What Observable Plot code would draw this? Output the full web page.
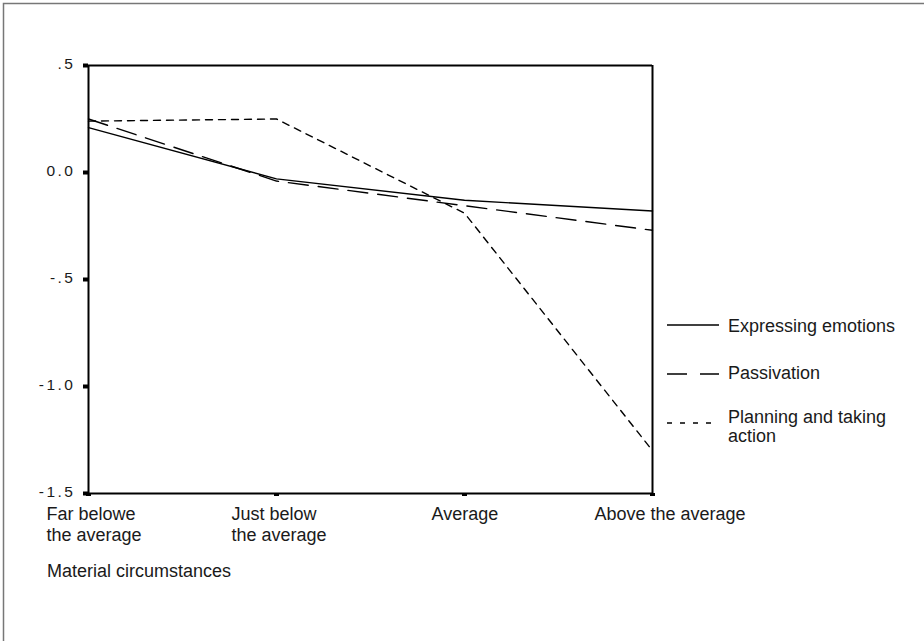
<!DOCTYPE html>
<html>
<head>
<meta charset="utf-8">
<script src="https://cdn.jsdelivr.net/npm/d3@7"></script>
<script src="https://cdn.jsdelivr.net/npm/@observablehq/plot@0.6"></script>
<style>
  html, body { margin: 0; padding: 0; background: #fff; }
  #chart { width: 924px; height: 641px; position: relative; }
  #chart svg { display: block; }
</style>
</head>
<body>
<div id="chart"></div>
<script>
// Coping strategies by material circumstances (mean scores)
const categories = ["Far belowe\nthe average", "Just below\nthe average", "Average", "Above the average"];
const seriesNames = ["Expressing emotions", "Passivation", "Planning and taking\naction"];
const expressingEmotions = [0.21, -0.03, -0.13, -0.18];
const passivation = [0.25, -0.04, -0.155, -0.27];
const planningAction = [0.24, 0.25, -0.19, -1.30];
const yTicks = [0.5, 0, -0.5, -1, -1.5];
const yTickLabels = [".5", "0.0", "-.5", "-1.0", "-1.5"];
const xTitle = "Material circumstances";

// Line style for each series, in legend order
const dashes = [null, "20,10", "7,6"];
const legendDashes = [null, "20,13", "5,8"];

const seriesValues = [expressingEmotions, passivation, planningAction];
const rows = seriesNames.flatMap((name, s) =>
  categories.map((c, i) => ({series: name, category: c, value: seriesValues[s][i]}))
);

// Horizontal shift of each left-aligned category label block
const labelDx = [-42, -45, -33, -58];

const font = "'Liberation Sans', Arial, sans-serif";
const ink = "#1a1a1a";

const plot = Plot.plot({
  width: 924,
  height: 641,
  marginLeft: 88,
  marginRight: 272,
  marginTop: 65,
  marginBottom: 148,
  style: {fontFamily: font, background: "#fff", color: ink, overflow: "visible"},
  x: {type: "point", domain: categories, padding: 0, axis: null, label: null},
  y: {domain: [-1.5, 0.5], axis: null, label: null},
  marks: [
    // plot box
    Plot.ruleX([categories[0], categories[categories.length - 1]], {stroke: "#000", strokeWidth: 2}),
    Plot.ruleY([-1.5, 0.5], {stroke: "#000", strokeWidth: 2}),
    // y axis ticks
    Plot.axisY({
      ticks: yTicks,
      tickFormat: () => "",
      tickSize: 5,
      strokeWidth: 4,
      stroke: "#000",
      label: null
    }),
    // y axis tick labels
    Plot.text(yTicks, {
      y: d => d,
      frameAnchor: "left",
      text: (d, i) => yTickLabels[i],
      textAnchor: "end",
      lineAnchor: "middle",
      dx: -13,
      dy: -1,
      fontSize: 15.5,
      fill: ink
    }),
    // x axis ticks
    Plot.axisX({
      tickSize: 3,
      strokeWidth: 5,
      stroke: "#000",
      tickFormat: () => "",
      label: null
    }),
    // category labels
    ...categories.map((c, i) => Plot.text([c], {
      x: d => d,
      y: yTicks[yTicks.length - 1],
      text: d => d,
      textAnchor: "start",
      lineAnchor: "top",
      lineHeight: 1.17,
      dx: labelDx[i],
      dy: 11.5,
      fontSize: 18,
      fill: ink
    })),
    // x axis title
    Plot.text([xTitle], {
      frameAnchor: "bottom-left",
      text: d => d,
      textAnchor: "start",
      lineAnchor: "bottom",
      dx: -41.5,
      dy: 83,
      fontSize: 18,
      fill: ink
    }),
    // series lines
    ...seriesNames.map((name, s) => Plot.line(rows.filter(r => r.series === name), {
      x: "category",
      y: "value",
      stroke: "#000",
      strokeWidth: 1.4,
      strokeDasharray: dashes[s]
    }))
  ]
});

document.getElementById("chart").appendChild(plot);

const svg = d3.select(plot);
// wide spacing of the y tick labels
svg.selectAll("text")
  .filter(function() { return yTickLabels.includes(this.textContent); })
  .attr("letter-spacing", "2.5px")
  .style("letter-spacing", "2.5px");

// Legend
const legendRows = [325, 374, 423];
const legendText = [331.5, 378.5, 422.5];
const lg = svg.append("g").attr("aria-label", "legend").attr("text-anchor", "start");
seriesNames.forEach((name, s) => {
  lg.append("line")
    .attr("x1", 667).attr("x2", 719)
    .attr("y1", legendRows[s]).attr("y2", legendRows[s])
    .attr("stroke", "#000").attr("stroke-width", 1.4)
    .attr("stroke-dasharray", legendDashes[s]);
  const t = lg.append("text")
    .attr("x", 728).attr("y", legendText[s])
    .attr("text-anchor", "start")
    .attr("font-family", font).attr("font-size", 18).attr("fill", ink);
  name.split("\n").forEach((line, j) => {
    t.append("tspan").attr("x", 728).attr("dy", j ? 19.5 : 0).text(line);
  });
});

// Outer frame
svg.append("path")
  .attr("d", "M3.5,641 V3.5 H924")
  .attr("fill", "none")
  .attr("stroke", "#777")
  .attr("stroke-width", 1.5);
</script>
</body>
</html>
